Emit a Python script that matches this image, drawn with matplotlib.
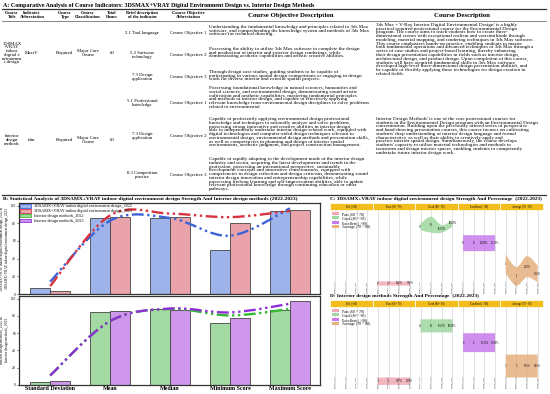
import textwrap
import numpy as np
import matplotlib
matplotlib.use("Agg")
import matplotlib.pyplot as plt
from matplotlib.path import Path
from matplotlib.patches import PathPatch, Patch, Rectangle

plt.rcParams['font.family'] = ['Liberation Serif', 'DejaVu Serif']

W, H = 550, 394

# ---------------- Panel A: table text
table_title = ("A: Comparative Analysis of Course Indicators: 3DSMAX+VRAY Digital "
               "Environment Design vs. Interior Design Methods")
col_headers = ["Course\nTitle", "Indicator\nAbbreviation", "Course\nType",
               "Course\nClassification", "Total\nHours", "Brief description\nof the indicator",
               "Course Objective\nAbbreviation"]
course_titles = ["3DSMAX +VRAY indoor digital environment design", "Interior design methods"]
course_abbr = ["MaxrV", "idm"]
course_type = ["Required", "Required"]
course_class = ["Major Core\nCourse", "Major Core\nCourse"]
course_hours = ["60", "60"]
indicators_1 = ["2.1 Tool language", "5.2 Software\ntechnology", "7.3 Design\napplication"]
indicators_2 = ["5.1 Professional\nknowledge", "7.3 Design\napplication", "8.3 Competition\npractice"]
objectives = ["Course Objective 1", "Course Objective 2", "Course Objective 3"]
obj_desc_1 = [
    "Understanding the fundamental knowledge and principles related to 3ds Max software, "
    "and comprehending the knowledge system and methods of 3ds Max software for technical drawing.",
    "Possessing the ability to utilize 3ds Max software to complete the design and production of "
    "interior and exterior design renderings, while demonstrating aesthetic capabilities and "
    "artistic creative abilities.",
    "Through design case studies, guiding students to be capable of participating in various "
    "spatial design competitions or engaging in design work for diverse interior and exterior "
    "spatial projects.",
]
obj_desc_2 = [
    "Possessing foundational knowledge in natural sciences, humanities and social sciences, and "
    "environmental design, demonstrating sound artistic cultivation and aesthetic capabilities, "
    "mastering fundamental principles and methods of interior design, and capable of effectively "
    "applying relevant knowledge from environmental design disciplines to solve problems related "
    "to environmental",
    "Capable of proficiently applying environmental design professional knowledge and techniques "
    "to rationally analyze and solve problems, possessing strong innovative and creative abilities "
    "in interior design, able to independently undertake interior design-related work, equipped "
    "with digital technologies and computer-aided design techniques relevant to environmental "
    "design, environmental design methods and presentation skills, as well as competencies in "
    "planning and design of interior spatial environments, aesthetic judgment, and project "
    "construction management.",
    "Capable of rapidly adapting to the development mode of the interior design industry and "
    "sector, acquiring the latest developments and trends in the profession, possessing an "
    "international perspective, sustainable development concepts and innovative consciousness, "
    "equipped with competencies in design reflection and design criticism, demonstrating sound "
    "interior design innovation and entrepreneurship capabilities, while possessing lifelong "
    "learning and self-improvement abilities, able to update relevant professional knowledge "
    "through continuing education or other pathways.",
]
course_desc = [
    "3ds Max + V-Ray Interior Digital Environmental Design' is a highly practical required "
    "professional course for the Environmental Design program. The course aims to teach students "
    "how to create three-dimensional scenes with exceptional realism and verisimilitude through "
    "modeling, material mapping, and rendering techniques in 3ds Max software. This course "
    "emphasizes hands-on practice, enabling students to master both fundamental operations and "
    "advanced techniques of 3ds Max through a series of case studies and project-based learning, "
    "thereby enhancing their design presentation capabilities in fields such as interior design, "
    "architectural design, and product design. Upon completion of this course, students will have "
    "acquired fundamental skills in 3ds Max software, developed high-level three-dimensional "
    "design presentation abilities, and be capable of flexibly applying these technologies for "
    "design creation in related fields.",
    "Interior Design Methods' is one of the core professional courses for students in the "
    "Environmental Design program with an Environmental Design concentration. Building upon the "
    "previously offered series of perspective and hand-drawing presentation courses, this course "
    "focuses on cultivating students' deep understanding of interior design language and formal "
    "characteristics, as well as their ability to creatively apply and practice interior spatial "
    "design. Simultaneously, the course develops students' capacity to utilize material "
    "technologies and methods to transform and design interior spaces, enabling students to "
    "competently undertake future interior design work.",
]

# ---------------- Panel B data
stats = ["Standard Deviation", "Mean", "Median", "Minimum Score", "Maximum Score"]
series_names = ["3DSAMX+VRAY indoor digital environment design_2022",
                "3DSAMX+VRAY indoor digital environment design_2023",
                "Interior design methods_2022", "Interior design methods_2023"]
max_2022 = [7, 86, 86, 50, 94]
max_2023 = [3, 87, 87, 80, 95]
max_line_2022 = [14, 83, 86, 66, 97]
max_line_2023 = [9, 89, 91, 87, 94]
idm_2022 = [4, 85, 88, 72, 87]
idm_2023 = [4.5, 86, 87, 77, 97]
idm_line_2022 = [11, 74, 88, 80.5, 88]
idm_line_2023 = [11, 74, 88.5, 84, 94]

# ---------------- Panels C/D data
grades = ["Fail (<60)", "Pass (60 - 70)", "Good (80 - 90)", "Excellent ( >90)", "Average (70 - 80)"]
legend_grades = ["Pass (60 ~ 70)", "Good (80 ~ 90)", "Excellent ( >90)", "Average (70 ~ 80)"]
sub_cols = ["Number_2022", "Number_2023", "Percent_2022", "Percent_2023"]
# order of blobs: Pass, Good, Excellent, Average
c_text = [["4", "4", "8.00%", "7.69%"], ["33", "36", "66.00%", "69.23%"],
          ["12", "11", "24.00%", "21.15%"], ["1", "1", "2.00%", "1.92%"]]
c_top = [[15, 15, 15, 15], [84, 92, 82, 88], [70, 70, 70, 70], [47, 32, 45, 34]]
c_bottom = [[10, 10, 10, 10], [76, 73, 73, 80], [51, 51, 51, 51], [24, 10, 20, 14]]
d_text = [["1", "1", "1.67%", "2.00%"], ["46", "40", "76.67%", "80.00%"],
          ["8", "6", "13.33%", "12.00%"], ["5", "3", "8.33%", "6.00%"]]
d_top = [[14, 14, 14, 14], [85, 85, 85, 85], [68, 68, 68, 68], [42, 42, 42, 42]]
d_bottom = [[5, 5, 5, 5], [69, 69, 69, 69], [45, 45, 45, 45], [14, 14, 14, 14]]

bar_colors = ['#9db3ea', '#eba3ab', '#a3d9a3', '#cf97ec']
line_colors = ['#3d63d6', '#d8323f', '#33b833', '#8e2fd8']
blob_colors = ['#f0a9b3', '#9fd79f', '#c77cec', '#e6b07f']
dashdotdot = (0, (5, 1.5, 1, 1.5, 1, 1.5))


def px_rect(x, y, w, h):
    return [x / W, 1 - (y + h) / H, w / W, h / H]


def smooth(xs, ys):
    pts = np.column_stack([xs, ys]).astype(float)
    p = np.vstack([pts[0], pts, pts[-1]])
    verts = [pts[0]]
    codes = [Path.MOVETO]
    for i in range(1, len(p) - 2):
        c1 = p[i] + (p[i + 1] - p[i - 1]) / 6
        c2 = p[i + 1] - (p[i + 2] - p[i]) / 6
        verts += [c1, c2, p[i + 1]]
        codes += [Path.CURVE4] * 3
    return verts, codes


fig = plt.figure(figsize=(5.5, 3.94), dpi=100)
ax0 = fig.add_axes([0, 0, 1, 1])
ax0.set_xlim(0, W)
ax0.set_ylim(H, 0)
ax0.axis('off')

# ---------------- Table A
ax0.text(3, 5, table_title, fontsize=4.35, fontweight='bold', va='center')
ax0.plot([2, 546], [8.5, 8.5], color='#333333', lw=0.9)
ax0.plot([2, 546], [21, 21], color='#555555', lw=0.5)
ax0.plot([2, 546], [194.5, 194.5], color='#333333', lw=0.9)
hdr_x = [12, 32, 65, 88, 112, 142, 188]
for t, x in zip(col_headers, hdr_x):
    ax0.text(x, 15, t, fontsize=3.2, fontweight='bold', ha='center', va='center', linespacing=0.95)
ax0.text(291, 15, "Course Objective Description", fontsize=4.9, fontweight='bold', ha='center', va='center')
ax0.text(462, 15, "Course Description", fontsize=4.9, fontweight='bold', ha='center', va='center')

body = dict(fontsize=3.4, ha='center', va='center', linespacing=0.9)
row_y = [53, 140]
for i in range(2):
    ax0.text(12, row_y[i], textwrap.fill(course_titles[i], 9), **body)
    ax0.text(32, row_y[i], course_abbr[i], **body)
    ax0.text(65, row_y[i], course_type[i], **body)
    ax0.text(88, row_y[i], course_class[i], **body)
    ax0.text(112, row_y[i], course_hours[i], **body)

sub_y1 = [33, 55, 77]
sub_y2 = [103, 136, 175]
for i in range(3):
    ax0.text(142, sub_y1[i], indicators_1[i], **body)
    ax0.text(188, sub_y1[i], objectives[i], **body)
    ax0.text(142, sub_y2[i], indicators_2[i], **body)
    ax0.text(188, sub_y2[i], objectives[i], **body)

para = dict(fontsize=3.7, ha='left', va='top', linespacing=0.9)
top1 = [25, 47, 70]
top2 = [86, 117, 157]
for i in range(3):
    ax0.text(209, top1[i], textwrap.fill(obj_desc_1[i], 75), **para)
    ax0.text(209, top2[i], textwrap.fill(obj_desc_2[i], 75), **para)
ax0.text(376, 23, textwrap.fill(course_desc[0], 73), **para)
ax0.text(376, 117, textwrap.fill(course_desc[1], 73), **para)

# ---------------- Panel B
ax0.text(3, 199, "B: Statistical Analysis of 3DSAMX+VRAY indoor digital environment design Strength "
         "And Interior design methods (2022-2023)", fontsize=3.85, fontweight='bold', va='center')
x = np.arange(len(stats))
bw = 0.333
axt = fig.add_axes(px_rect(19, 203, 301, 91))
axb = fig.add_axes(px_rect(19, 296, 301, 89))
pairs = [(axt, max_2022, max_2023, max_line_2022, max_line_2023, 0),
         (axb, idm_2022, idm_2023, idm_line_2022, idm_line_2023, 2)]
for ax, v1, v2, l1, l2, k in pairs:
    ax.bar(x - bw / 2, v1, bw, color=bar_colors[k], edgecolor='#444444', lw=0.6, zorder=2)
    ax.bar(x + bw / 2, v2, bw, color=bar_colors[k + 1], edgecolor='#444444', lw=0.6, zorder=2)
    for vals, c in [(l1, line_colors[k]), (l2, line_colors[k + 1])]:
        verts, codes = smooth(x, vals)
        ax.add_patch(PathPatch(Path(verts, codes), fill=False, edgecolor=c, lw=1.7,
                               linestyle=dashdotdot, zorder=3))
    ax.set_xlim(-0.52, 4.5)
    ax.set_ylim(0, 103)
    ax.set_yticks([0, 20, 40, 60, 80, 100])
    ax.tick_params(axis='y', labelsize=2.6, length=1.2, width=0.4, pad=1)
    for s in ax.spines.values():
        s.set_linewidth(0.9)
        s.set_color('#333333')
axt.set_xticks([])
axb.set_xticks(x)
axb.set_xticklabels(stats, fontsize=4.3, fontweight='bold')
axb.tick_params(axis='x', length=0, pad=1)
axt.set_ylabel("3DSAMX+VRAY indoor digital environment design_2022 &\n"
               "3DSAMX+VRAY indoor digital environment design_2023", fontsize=2.4, labelpad=1.5)
axb.set_ylabel("Interior design methods_2022 &\nInterior design methods_2023", fontsize=2.6, labelpad=1.5)
handles = [Patch(facecolor=bar_colors[i], edgecolor=line_colors[i], lw=0.6, label=series_names[i])
           for i in range(4)]
axt.legend(handles=handles, loc='upper left', fontsize=3.0, frameon=False, handlelength=2.6,
           handleheight=0.9, labelspacing=0.15, borderaxespad=0.2, borderpad=0.1)


# ---------------- Panels C / D
def grade_panel(title, y0, h, texts, tops, bottoms):
    ax0.text(330, y0 - 4, title, fontsize=3.8, fontweight='bold', va='center')
    cw = 213 / 5
    for g in range(5):
        ax0.add_patch(Rectangle((330 + g * cw, y0), cw, 7, facecolor='#f2bd1d',
                                edgecolor='white', lw=0.5))
        ax0.text(330 + g * cw + cw / 2, y0 + 3.5, grades[g], fontsize=2.0, ha='center', va='center')
    ax = fig.add_axes(px_rect(330, y0 + 7, 213, h))
    ax.set_xlim(0, 20)
    ax.set_ylim(0, 100)
    ax.axis('off')
    for j in range(20):
        ax.axvline(j + 0.5, color='#d6d6d6', lw=0.5, zorder=0)
        ax.text(j + 0.5, 1, sub_cols[j % 4], rotation=90, fontsize=1.5, ha='center', va='bottom',
                color='#333333')
    for b in range(4):
        cols = np.arange(4) + 4 * (b + 1) + 0.5
        v1, c1 = smooth(cols, tops[b])
        v2, c2 = smooth(cols[::-1], bottoms[b][::-1])
        c2[0] = Path.LINETO
        verts = v1 + v2 + [v1[0]]
        codes = c1 + c2 + [Path.CLOSEPOLY]
        ax.add_patch(PathPatch(Path(verts, codes), facecolor=blob_colors[b], edgecolor='none',
                               alpha=0.85, zorder=2))
        for j in range(4):
            ax.text(cols[j], (tops[b][j] + bottoms[b][j]) / 2, texts[b][j], fontsize=1.9,
                    ha='center', va='center', zorder=3)
    lh = [Patch(facecolor=blob_colors[i], label=legend_grades[i]) for i in range(4)]
    ax.legend(handles=lh, loc='upper left', fontsize=2.8, frameon=False, handlelength=1.8,
              handleheight=0.8, labelspacing=0.1, borderaxespad=0.3, borderpad=0.2)


grade_panel("C: 3DSAMX+VRAY indoor digital environment design Strength And Percentage  (2022-2023)",
            203, 84, c_text, c_top, c_bottom)
grade_panel("D: Interior design methods Strength And Percentage  (2022-2023)",
            300, 82, d_text, d_top, d_bottom)

fig.savefig("out.png", dpi=100)
